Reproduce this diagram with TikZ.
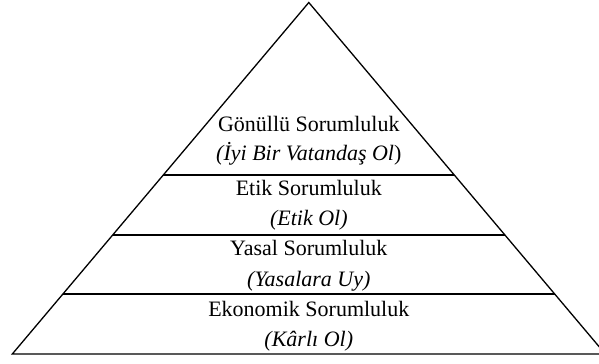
\documentclass[tikz,border=0pt]{standalone}
\usepackage{fontspec}
\setmainfont{Liberation Serif}
\begin{document}
\begin{tikzpicture}[x=1bp,y=-1bp,
  edge/.style={line width=1.3bp,line join=miter},
  lbl/.style={anchor=base,inner sep=0pt,font=\fontsize{22bp}{26bp}\selectfont}]
\useasboundingbox (0,0) rectangle (599,363);
\clip (0,0) rectangle (599,363);
% triangle corners
\coordinate (apex) at (308.8,2.5);
\coordinate (bl) at (12.3,354);
\coordinate (br) at (605.3,354);
% separator end points
\coordinate (l1) at (163.3,175);
\coordinate (r1) at (454.3,175);
\coordinate (l2) at (112.7,235);
\coordinate (r2) at (504.9,235);
\coordinate (l3) at (62.9,294);
\coordinate (r3) at (554.7,294);
\draw[edge] (bl) -- (apex) -- (br) -- cycle;
\draw[edge] (l1) -- (r1);
\draw[edge] (l2) -- (r2);
\draw[edge] (l3) -- (r3);
% labels
\node[lbl] (g1) at (308.8,131.7) {Gönüllü Sorumluluk};
\node[lbl] (g2) at (308.8,160.5) {\textit{(İyi Bir Vatandaş Ol})};
\node[lbl] (e1) at (308.8,195.5) {Etik Sorumluluk};
\node[lbl] (e2) at (308.8,225) {\textit{(Etik Ol)}};
\node[lbl] (y1) at (308.8,255.5) {Yasal Sorumluluk};
\node[lbl] (y2) at (308.8,286.5) {\textit{(Yasalara Uy)}};
\node[lbl] (k1) at (308.8,316) {Ekonomik Sorumluluk};
\node[lbl] (k2) at (308.8,346) {\textit{(Kârlı Ol)}};
\end{tikzpicture}
\end{document}
